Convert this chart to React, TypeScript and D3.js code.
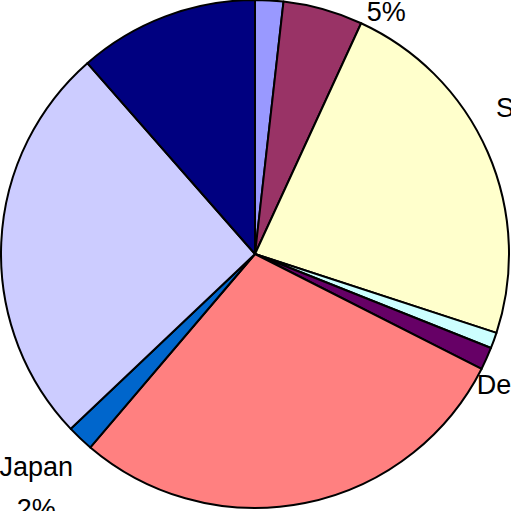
import React from 'react';
import * as d3 from 'd3';

// Slices clockwise from 12 o'clock
const countries = ['Canada', 'Norway', 'Sweden', 'Finland', 'Denmark', 'Germany', 'Japan', 'France', 'USA'];
const shares = [1.79, 5.07, 23.16, 1.01, 1.44, 28.75, 1.69, 25.61, 11.47];
const colors = ['#9999ff', '#993366', '#ffffcc', '#ccffff', '#660066', '#ff8080', '#0066cc', '#ccccff', '#000080'];

// labels that fall inside the visible frame
const labelled = ['Norway', 'Sweden', 'Denmark', 'Japan'];
const labelNudge: Record<string, [number, number]> = {
  Norway: [63, -30],
  Sweden: [57, -35],
  Denmark: [45, 35],
  Japan: [-44, 38],
};

const W = 511;
const H = 511;
const cx = 255;
const cy = 254;
const radius = 254;
const fontSize = 27;
const lineGap = 42;

const App: React.FC = () => {
  const data = countries.map((c, i) => ({ name: c, value: shares[i], color: colors[i] }));
  const total = d3.sum(shares);

  const pie = d3.pie<{ name: string; value: number; color: string }>()
    .sort(null)
    .value(d => d.value)
    .startAngle(0)
    .endAngle(2 * Math.PI);

  const arc = d3.arc<d3.PieArcDatum<{ name: string; value: number; color: string }>>()
    .innerRadius(0)
    .outerRadius(radius);

  const edge = d3.arc<d3.PieArcDatum<{ name: string; value: number; color: string }>>()
    .innerRadius(radius)
    .outerRadius(radius);

  const arcs = pie(data);

  return (
    <svg width={W} height={H} style={{ position: 'absolute', left: 0, top: 0, background: '#fff' }}>
      <g transform={`translate(${cx},${cy})`}>
        {arcs.map(a => (
          <path key={a.data.name} d={arc(a) || ''} fill={a.data.color} stroke="#000" strokeWidth={2} strokeLinejoin="round" />
        ))}
        {arcs.filter(a => labelled.includes(a.data.name)).map(a => {
          const [px, py] = edge.centroid(a);
          const [dx, dy] = labelNudge[a.data.name];
          const pct = Math.round((a.data.value / total) * 100) + '%';
          return (
            <text key={'l' + a.data.name} x={px + dx} y={py + dy} textAnchor="middle"
              fontFamily="'Liberation Sans', Arial, sans-serif" fontSize={fontSize} fill="#000">
              <tspan x={px + dx}>{a.data.name}</tspan>
              <tspan x={px + dx} dy={lineGap}>{pct}</tspan>
            </text>
          );
        })}
      </g>
    </svg>
  );
};

export default App;
